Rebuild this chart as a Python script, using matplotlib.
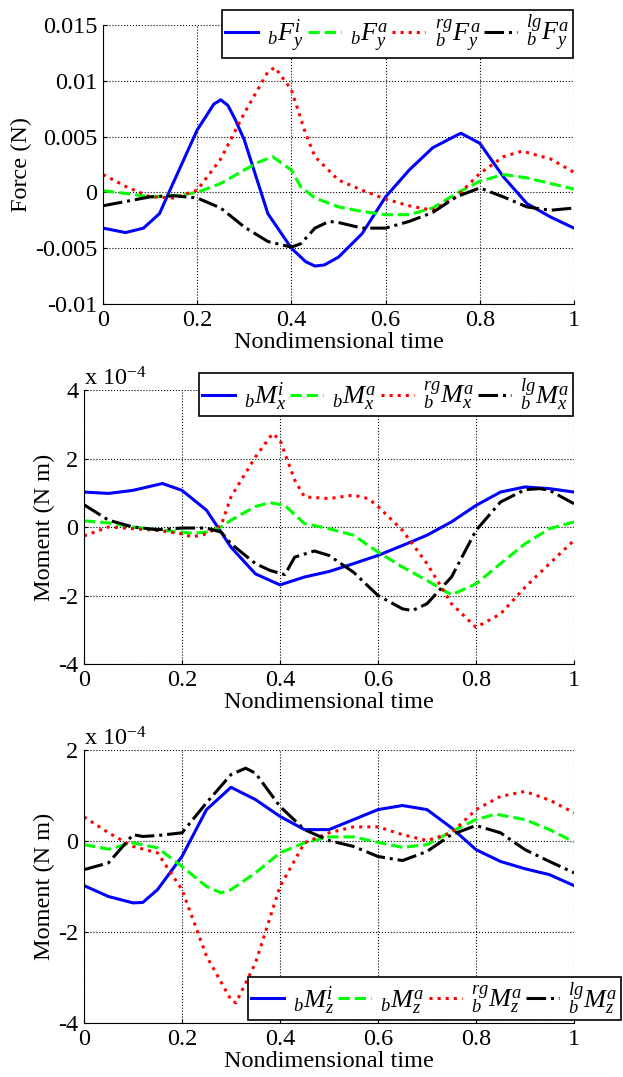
import matplotlib
matplotlib.use('Agg')
import matplotlib.pyplot as plt

plt.rcParams['font.family'] = 'Liberation Serif'
plt.rcParams['mathtext.fontset'] = 'custom'
plt.rcParams['mathtext.rm'] = 'Liberation Serif'
plt.rcParams['mathtext.it'] = 'Liberation Serif:italic'
plt.rcParams['axes.unicode_minus'] = False

# **********************************************
# dados

# força F_y (N)
t_fy_i = [0, 0.048, 0.086, 0.12, 0.14, 0.2, 0.22, 0.235, 0.25, 0.265, 0.28, 0.3, 0.35, 0.4, 0.43, 0.45, 0.47,
          0.5, 0.55, 0.6, 0.65, 0.7, 0.75, 0.76, 0.8, 0.85, 0.9, 0.95, 1.0]
fy_i = [-0.0032, -0.0036, -0.0032, -0.0019, 0.0, 0.0056, 0.0069, 0.0079, 0.0083, 0.0078, 0.0066, 0.0047,
        -0.0019, -0.005, -0.0062, -0.0066, -0.0065, -0.0058, -0.0037, -0.0004, 0.002, 0.004, 0.0051, 0.0053,
        0.0044, 0.0014, -0.001, -0.0022, -0.0032]
t_fy_a = [0, 0.05, 0.1, 0.15, 0.2, 0.25, 0.3, 0.33, 0.36, 0.4, 0.42, 0.45, 0.5, 0.55, 0.6, 0.65, 0.7, 0.75,
          0.8, 0.85, 0.9, 0.95, 1.0]
fy_a = [0.00015, -0.0001, -0.0004, -0.0003, 0.0, 0.0008, 0.002, 0.0027, 0.0032, 0.002, 0.0005, -0.0005,
        -0.0013, -0.0017, -0.002, -0.002, -0.0014, -0.0001, 0.001, 0.0016, 0.0013, 0.0008, 0.0003]
t_fy_rg = [0, 0.05, 0.1, 0.15, 0.2, 0.25, 0.3, 0.35, 0.365, 0.4, 0.43, 0.45, 0.5, 0.55, 0.6, 0.65, 0.7,
           0.75, 0.8, 0.85, 0.89, 0.95, 1.0]
fy_rg = [0.0016, 0.0005, -0.0004, -0.0005, 0.0002, 0.003, 0.0071, 0.0108, 0.0112, 0.0092, 0.0053, 0.0032,
         0.0011, 0.0002, -0.0006, -0.0012, -0.0016, -0.0004, 0.0017, 0.0032, 0.0037, 0.003, 0.0018]
t_fy_lg = [0, 0.05, 0.1, 0.15, 0.2, 0.25, 0.3, 0.35, 0.4, 0.42, 0.45, 0.48, 0.5, 0.55, 0.6, 0.65, 0.7,
           0.75, 0.8, 0.85, 0.9, 0.95, 1.0]
fy_lg = [-0.0012, -0.0008, -0.0004, -0.0003, -0.0005, -0.0014, -0.0031, -0.0044, -0.0049, -0.0046,
         -0.0032, -0.0026, -0.0027, -0.0032, -0.0032, -0.0026, -0.0018, -0.0004, 0.0004, -0.0004, -0.0013,
         -0.0016, -0.0014]

# momento M_x (x 10^-4 N m)
t_mx_i = [0, 0.05, 0.1, 0.16, 0.2, 0.25, 0.3, 0.35, 0.4, 0.45, 0.5, 0.55, 0.6, 0.65, 0.7, 0.75, 0.8, 0.85,
          0.9, 0.95, 1.0]
mx_i = [1.02, 0.98, 1.07, 1.27, 1.07, 0.49, -0.59, -1.37, -1.69, -1.46, -1.3, -1.07, -0.83, -0.54, -0.24,
        0.15, 0.63, 1.02, 1.17, 1.12, 1.02]
t_mx_a = [0, 0.05, 0.1, 0.15, 0.2, 0.22, 0.25, 0.28, 0.3, 0.35, 0.38, 0.41, 0.45, 0.5, 0.55, 0.6, 0.65,
          0.7, 0.75, 0.8, 0.85, 0.9, 0.95, 1.0]
mx_a = [0.18, 0.12, 0.0, -0.08, -0.15, -0.18, -0.15, 0.0, 0.2, 0.6, 0.71, 0.63, 0.1, -0.05, -0.24, -0.73,
        -1.17, -1.56, -1.98, -1.66, -1.07, -0.49, -0.05, 0.15]
t_mx_rg = [0, 0.05, 0.1, 0.15, 0.2, 0.22, 0.25, 0.28, 0.3, 0.35, 0.385, 0.4, 0.43, 0.45, 0.5, 0.55, 0.58,
           0.6, 0.65, 0.7, 0.75, 0.8, 0.85, 0.9, 0.95, 1.0]
mx_rg = [-0.26, 0.0, -0.05, -0.1, -0.2, -0.29, -0.2, 0.05, 0.88, 2.05, 2.73, 2.54, 1.37, 0.88, 0.83, 0.93,
         0.83, 0.6, -0.1, -1.07, -2.24, -2.93, -2.54, -1.76, -1.07, -0.39]
t_mx_lg = [0, 0.05, 0.1, 0.15, 0.2, 0.25, 0.28, 0.3, 0.35, 0.38, 0.41, 0.43, 0.47, 0.5, 0.55, 0.6, 0.65,
           0.67, 0.7, 0.75, 0.8, 0.85, 0.9, 0.93, 0.95, 1.0]
mx_lg = [0.65, 0.2, 0.0, -0.08, -0.03, -0.03, -0.15, -0.49, -1.07, -1.27, -1.39, -0.88, -0.7, -0.83, -1.32,
         -2.0, -2.39, -2.44, -2.24, -1.46, -0.1, 0.73, 1.09, 1.12, 1.07, 0.68]

# momento M_z (x 10^-4 N m)
t_mz_i = [0, 0.05, 0.1, 0.12, 0.15, 0.2, 0.25, 0.3, 0.35, 0.4, 0.45, 0.5, 0.55, 0.6, 0.65, 0.7, 0.75, 0.8,
          0.85, 0.9, 0.95, 1.0]
mz_i = [-0.98, -1.22, -1.36, -1.35, -1.07, -0.34, 0.69, 1.18, 0.91, 0.54, 0.25, 0.25, 0.47, 0.69, 0.78, 0.69,
        0.29, -0.19, -0.45, -0.61, -0.74, -0.98]
t_mz_a = [0, 0.05, 0.1, 0.15, 0.2, 0.25, 0.28, 0.3, 0.35, 0.4, 0.45, 0.5, 0.55, 0.6, 0.65, 0.7, 0.75, 0.8,
          0.84, 0.9, 0.95, 1.0]
mz_a = [-0.08, -0.18, -0.04, -0.15, -0.56, -1.0, -1.14, -1.07, -0.7, -0.26, -0.04, 0.09, 0.09, -0.03, -0.14,
        -0.08, 0.21, 0.47, 0.59, 0.47, 0.25, -0.02]
t_mz_rg = [0, 0.05, 0.1, 0.15, 0.2, 0.25, 0.3, 0.31, 0.35, 0.4, 0.45, 0.5, 0.55, 0.6, 0.65, 0.7, 0.75, 0.8,
           0.85, 0.9, 0.95, 1.0]
mz_rg = [0.53, 0.18, -0.12, -0.26, -1.07, -2.53, -3.49, -3.56, -2.68, -1.0, -0.04, 0.18, 0.31, 0.31, 0.14,
         0.01, 0.18, 0.69, 0.98, 1.09, 0.9, 0.62]
t_mz_lg = [0, 0.05, 0.1, 0.12, 0.15, 0.2, 0.25, 0.3, 0.33, 0.35, 0.4, 0.45, 0.5, 0.55, 0.6, 0.65, 0.7, 0.75,
           0.8, 0.85, 0.9, 0.95, 1.0]
mz_lg = [-0.63, -0.48, 0.14, 0.1, 0.12, 0.18, 0.84, 1.46, 1.6, 1.49, 0.76, 0.25, 0.01, -0.12, -0.34, -0.43,
         -0.23, 0.14, 0.34, 0.18, -0.19, -0.45, -0.7]

x_ticks = [0, 0.2, 0.4, 0.6, 0.8, 1]
x_ticklabels = ['0', '0.2', '0.4', '0.6', '0.8', '1']
fy_ticks = [-0.01, -0.005, 0, 0.005, 0.01, 0.015]
fy_ticklabels = ['-0.01', '-0.005', '0', '0.005', '0.01', '0.015']
mx_ticks = [-4, -2, 0, 2, 4]
mz_ticks = [-4, -2, 0, 2]

lab_fy = [r'${}_{b}F^{i}_{y}$', r'${}_{b}F^{a}_{y}$', r'${}_{b}^{rg}F^{a}_{y}$', r'${}_{b}^{lg}F^{a}_{y}$']
lab_mx = [r'${}_{b}M^{i}_{x}$', r'${}_{b}M^{a}_{x}$', r'${}_{b}^{rg}M^{a}_{x}$', r'${}_{b}^{lg}M^{a}_{x}$']
lab_mz = [r'${}_{b}M^{i}_{z}$', r'${}_{b}M^{a}_{z}$', r'${}_{b}^{rg}M^{a}_{z}$', r'${}_{b}^{lg}M^{a}_{z}$']

# **********************************************
# Gráficos

W, H = 623, 1077
fig = plt.figure(figsize=(W / 100, H / 100), dpi=100)

estilos = [dict(color='#0000ff', ls='-'), dict(color='#00ff00', ls='--'),
           dict(color='#ff0000', ls=':'), dict(color='black', ls='-.')]

def painel(rect, series, labels, yticks, yticklabels, ylim, ylabel, leg_loc, leg_anchor, escala=False):
    ax = fig.add_axes(rect)
    for (t, y), est, lab in zip(series, estilos, labels):
        ax.plot(t, y, lw=2.2, label=lab, **est)
    ax.set_xlim(0, 1)
    ax.set_ylim(*ylim)
    ax.set_xticks(x_ticks)
    ax.set_xticklabels(x_ticklabels)
    ax.set_yticks(yticks)
    ax.set_yticklabels(yticklabels)
    ax.tick_params(direction='in', length=3, labelsize=17.5, pad=4)
    ax.spines['top'].set_visible(False)
    ax.spines['right'].set_visible(False)
    ax.grid(True, ls=':', color='black', lw=0.8)
    ax.set_xlabel('Nondimensional time', fontsize=17.5, labelpad=1)
    ax.set_ylabel(ylabel, fontsize=17.5, labelpad=2)
    if escala:
        ax.text(0, 1.0, r'x 10$^{-4}$', transform=ax.transAxes, fontsize=17.5, va='bottom', ha='left')
    leg = ax.legend(loc=leg_loc, bbox_to_anchor=leg_anchor, bbox_transform=fig.transFigure, ncol=4,
                    fontsize=19, handlelength=1.25, handletextpad=0.35, columnspacing=0.15, borderpad=0.12,
                    borderaxespad=0, fancybox=False, framealpha=1, edgecolor='black')
    leg.get_frame().set_linewidth(1.2)
    return ax

ax1 = painel([103 / W, 1 - 304 / H, 471 / W, 279 / H],
             [(t_fy_i, fy_i), (t_fy_a, fy_a), (t_fy_rg, fy_rg), (t_fy_lg, fy_lg)], lab_fy,
             fy_ticks, fy_ticklabels, (-0.01, 0.015), 'Force (N)', 'upper right', (573 / W, 1 - 10 / H))

ax2 = painel([84 / W, 1 - 664 / H, 490 / W, 274 / H],
             [(t_mx_i, mx_i), (t_mx_a, mx_a), (t_mx_rg, mx_rg), (t_mx_lg, mx_lg)], lab_mx,
             mx_ticks, [str(v) for v in mx_ticks], (-4, 4), 'Moment (N m)', 'upper right',
             (573 / W, 1 - 373 / H), escala=True)

ax3 = painel([84 / W, 1 - 1023 / H, 490 / W, 273 / H],
             [(t_mz_i, mz_i), (t_mz_a, mz_a), (t_mz_rg, mz_rg), (t_mz_lg, mz_lg)], lab_mz,
             mz_ticks, [str(v) for v in mz_ticks], (-4, 2), 'Moment (N m)', 'lower right',
             (621 / W, 1 - 1020 / H), escala=True)

fig.savefig('out.png', dpi=100)
